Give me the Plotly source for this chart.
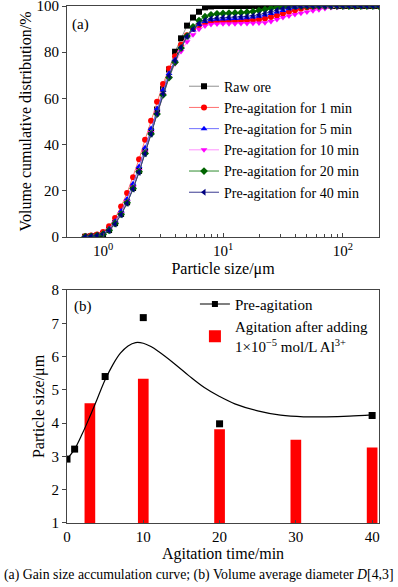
import plotly.graph_objects as go
from plotly.subplots import make_subplots

# ---------------- data: panel (a) ----------------
particle_size = [0.708, 0.794, 0.891, 1.000, 1.122, 1.259, 1.413, 1.585, 1.778, 1.995,
                 2.239, 2.512, 2.818, 3.162, 3.548, 3.981, 4.467, 5.012, 5.623, 6.310,
                 7.079, 7.943, 8.913, 10.00, 11.22, 12.59, 14.13, 15.85, 17.78, 19.95,
                 22.39, 25.12, 28.18, 31.62, 35.48, 39.81, 44.67, 50.12, 56.23, 63.10,
                 70.79, 79.43, 89.13, 100.0, 112.2, 125.9, 141.3, 158.5, 177.8, 199.5]

raw_ore = [0.1, 0.3, 0.6, 1.3, 3.0, 6.0, 10.0, 15.0, 21.2, 28.6,
           37.0, 46.0, 55.2, 64.0, 72.5, 80.2, 86.0, 91.5, 95.0, 97.5,
           99.4, 99.8, 100, 100, 100, 100, 100, 100, 100, 100,
           100, 100, 100, 100, 100, 100, 100, 100, 100, 100,
           100, 100, 100, 100, 100, 100, 100, 100, 100, 100]

pre_1min = [0.3, 0.6, 1.1, 2.2, 4.6, 8.2, 13.2, 19.0, 25.9, 33.7,
            42.1, 50.3, 58.6, 66.2, 72.9, 78.3, 83.2, 87.3, 90.0, 91.7,
            92.6, 93.1, 93.3, 93.4, 93.5, 93.5, 93.6, 93.7, 93.9, 94.2,
            94.6, 95.2, 95.9, 96.7, 97.5, 98.2, 98.8, 99.3, 99.6, 99.8,
            99.9, 100, 100, 100, 100, 100, 100, 100, 100, 100]

pre_5min = [0.2, 0.4, 0.8, 1.6, 3.6, 6.8, 11.2, 16.5, 23.0, 30.5,
            38.6, 47.0, 55.5, 63.6, 70.8, 76.7, 82.0, 86.6, 89.6, 92.0,
            93.3, 94.0, 94.3, 94.4, 94.5, 94.6, 94.7, 94.9, 95.2, 95.6,
            96.1, 96.7, 97.4, 98.1, 98.8, 99.3, 99.7, 99.9, 100, 100,
            100, 100, 100, 100, 100, 100, 100, 100, 100, 100]

pre_10min = [0.1, 0.3, 0.6, 1.3, 3.0, 6.0, 10.2, 15.3, 21.6, 28.8,
             36.8, 45.2, 53.6, 61.7, 68.9, 75.0, 80.3, 84.5, 87.5, 89.9,
             91.3, 92.0, 92.2, 92.3, 92.3, 92.3, 92.4, 92.4, 92.5, 92.6,
             92.8, 93.3, 94.2, 95.0, 95.7, 96.3, 96.9, 97.4, 97.9, 98.4,
             98.9, 99.3, 99.5, 99.7, 99.8, 99.9, 100, 100, 100, 100]

pre_20min = [0.1, 0.3, 0.6, 1.2, 2.9, 5.8, 9.8, 14.8, 21.0, 28.2,
             36.2, 44.6, 53.2, 61.5, 69.0, 75.6, 81.8, 87.0, 91.0, 93.7,
             95.4, 96.2, 96.6, 96.8, 96.9, 97.0, 97.1, 97.3, 97.6, 98.0,
             98.5, 99.0, 99.4, 99.7, 99.9, 100, 100, 100, 100, 100,
             100, 100, 100, 100, 100, 100, 100, 100, 100, 100]

pre_40min = [0.1, 0.3, 0.6, 1.2, 2.8, 5.6, 9.6, 14.6, 20.8, 28.0,
             36.0, 44.6, 53.4, 62.0, 69.8, 76.3, 82.0, 86.8, 90.0, 92.4,
             93.8, 94.5, 94.8, 95.0, 95.1, 95.2, 95.3, 95.5, 95.8, 96.2,
             96.8, 97.5, 98.2, 98.9, 99.4, 99.7, 99.9, 100, 100, 100,
             100, 100, 100, 100, 100, 100, 100, 100, 100, 100]

series_names = ["Raw ore", "Pre-agitation for 1 min", "Pre-agitation for 5 min",
                "Pre-agitation for 10 min", "Pre-agitation for 20 min",
                "Pre-agitation for 40 min"]
series_values = [raw_ore, pre_1min, pre_5min, pre_10min, pre_20min, pre_40min]
marker_colors = ["#000000", "#FF0000", "#0000FF", "#FF00FF", "#006400", "#000080"]
line_colors = ["#909090", "#FF7070", "#7070FF", "#FF90FF", "#2E8B2E", "#3A3A90"]
marker_symbols = ["square", "circle", "triangle-up", "triangle-down", "diamond", "triangle-left"]

# ---------------- data: panel (b) ----------------
pre_time = [0, 1, 5, 10, 20, 40]
pre_d43 = [2.92, 3.22, 5.40, 7.17, 3.98, 4.23]

fit_time = [0, 1, 2, 3, 4, 5, 6, 7, 8, 9, 10, 11, 12, 14, 16, 18, 20, 22, 25, 28, 31, 34, 37, 40]
fit_d43 = [2.92, 3.22, 3.68, 4.20, 4.75, 5.30, 5.75, 6.10, 6.32, 6.42, 6.40, 6.30, 6.15,
           5.80, 5.42, 5.07, 4.80, 4.58, 4.37, 4.24, 4.19, 4.19, 4.21, 4.25]

al_time = [3, 10, 20, 30, 40]
al_d43 = [4.60, 5.33, 3.82, 3.50, 3.27]

FONT = "Liberation Serif, Times New Roman, DejaVu Serif, serif"

fig = make_subplots(rows=2, cols=1, vertical_spacing=0.0)

for name, vals, mc, lc, sym in zip(series_names, series_values, marker_colors, line_colors, marker_symbols):
    fig.add_trace(go.Scatter(
        x=particle_size, y=vals, name=name, mode="lines+markers",
        line=dict(color=lc, width=1),
        marker=dict(color=mc, symbol=sym, size=6, line=dict(width=0)),
        legend="legend",
    ), row=1, col=1)

# panel (b)
fig.add_trace(go.Scatter(x=fit_time, y=fit_d43, mode="lines", line=dict(color="black", width=1.2, shape="spline"),
                         showlegend=False, hoverinfo="skip"), row=2, col=1)
fig.add_trace(go.Scatter(x=pre_time, y=pre_d43, mode="markers",
                         marker=dict(color="black", symbol="square", size=7),
                         showlegend=False), row=2, col=1)
fig.add_trace(go.Scatter(x=[None], y=[None], mode="lines+markers", name="Pre-agitation",
                         line=dict(color="black", width=1.2),
                         marker=dict(color="black", symbol="square", size=6),
                         legend="legend2"), row=2, col=1)
fig.add_trace(go.Bar(x=al_time, y=al_d43, width=1.4, marker=dict(color="#FF0000", line=dict(width=0)),
                     name="Agitation after adding<br>1×10<sup>−5</sup> mol/L Al<sup>3+</sup>",
                     legend="legend2"), row=2, col=1)

axis_common = dict(showline=True, linecolor="#444444", linewidth=1, mirror=True, automargin=False,
                   showgrid=False, zeroline=False, tickfont=dict(family=FONT, size=15, color="black"),
                   tickcolor="#444444", ticklabeloverflow="allow")

fig.update_xaxes(type="log", range=[-0.301, 2.301], tickvals=[1, 10, 100],
                 ticktext=["10<sup>0</sup>", "10<sup>1</sup>", "10<sup>2</sup>"],
                 ticks="inside", ticklen=4,
                 minor=dict(ticks="inside", ticklen=3, tickcolor="#444444",
                            tickvals=[2, 3, 4, 5, 6, 7, 8, 9, 20, 30, 40, 50, 60, 70, 80, 90]),
                 title=dict(text="Particle size/μm", font=dict(family=FONT, size=16, color="black"), standoff=4),
                 domain=[0, 1], row=1, col=1, **axis_common)
fig.update_yaxes(range=[0, 100], tickvals=[0, 20, 40, 60, 80, 100], ticks="outside", ticklen=4,
                 title=dict(text="Volume cumulative distribution/%", font=dict(family=FONT, size=16, color="black"),
                            standoff=0),
                 domain=[0.5532, 1.0], row=1, col=1, **axis_common)

fig.update_xaxes(range=[0, 40.9], tickvals=[0, 10, 20, 30, 40], ticks="inside", ticklen=3,
                 title=dict(text="Agitation time/min", font=dict(family=FONT, size=16, color="black"), standoff=2),
                 domain=[0, 1], row=2, col=1, **axis_common)
fig.update_yaxes(range=[1, 8], tickvals=[1, 2, 3, 4, 5, 6, 7, 8], ticks="outside", ticklen=4,
                 title=dict(text="Particle size/μm", font=dict(family=FONT, size=16, color="black"), standoff=2),
                 domain=[0, 0.4507], row=2, col=1, **axis_common)

fig.update_layout(
    width=398, height=587,
    margin=dict(l=67, r=19, t=6, b=64, autoexpand=False),
    paper_bgcolor="white", plot_bgcolor="white",
    font=dict(family=FONT, size=15, color="black"),
    legend=dict(x=0.375, y=0.875, xanchor="left", yanchor="top", bgcolor="rgba(0,0,0,0)",
                font=dict(family=FONT, size=14, color="black"), itemwidth=30, tracegroupgap=0),
    legend2=dict(x=0.41, y=0.455, xanchor="left", yanchor="top", bgcolor="rgba(0,0,0,0)",
                 font=dict(family=FONT, size=15, color="black"), itemwidth=30, tracegroupgap=0),
    showlegend=True,
    annotations=[
        dict(text="(a)", xref="paper", yref="paper", x=0.01, y=0.985, xanchor="left", yanchor="top",
             showarrow=False, font=dict(family=FONT, size=15, color="black")),
        dict(text="(b)", xref="paper", yref="paper", x=0.015, y=0.44, xanchor="left", yanchor="top",
             showarrow=False, font=dict(family=FONT, size=15, color="black")),
        dict(text="(a) Gain size accumulation curve; (b) Volume average diameter <i>D</i>[4,3]",
             xref="paper", yref="paper", x=0.423, y=-0.1006, xanchor="center", yanchor="middle",
             showarrow=False, font=dict(family=FONT, size=13.8, color="black")),
    ],
)

fig.write_html("out.html", config={"displayModeBar": False},
               post_script="document.body.style.margin='0px';")
